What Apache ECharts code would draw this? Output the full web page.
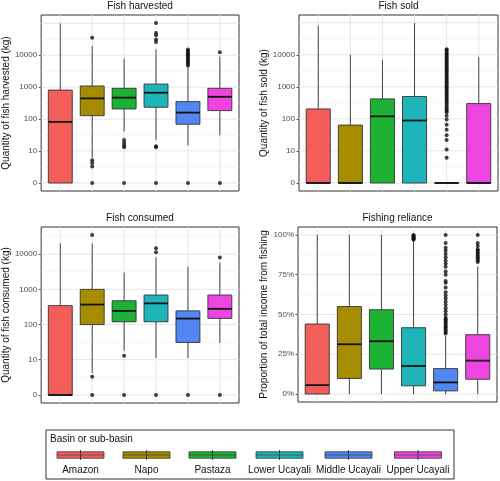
<!DOCTYPE html>
<html><head><meta charset="utf-8">
<script src="https://cdn.jsdelivr.net/npm/echarts@6/dist/echarts.min.js"></script>
<style>html,body{margin:0;padding:0;background:#fff}#c{width:500px;height:481px}</style>
</head><body><div id="c"></div><script>
const categories = ['Amazon', 'Napo', 'Pastaza', 'Lower Ucayali', 'Middle Ucayali', 'Upper Ucayali'];
const colors = ['#F35E5A', '#A88C00', '#1DB234', '#1DB5BA', '#5286F3', '#EE45E0'];
const kgTickLabels = [0, 10, 100, 1000, 10000];
const kgGridBreaks = [0, 10, 100, 1000, 10000, 100000];
const pctTickLabels = [0, 0.25, 0.5, 0.75, 1];

// box stats: [lower whisker, Q1, median, Q3, upper whisker]
const harvestedBox = [
  [0, 0, 82, 810, 98000],
  [6, 128, 445, 1090, 19600],
  [41, 208, 470, 920, 7900],
  [22, 235, 670, 1250, 15200],
  [15, 69, 160, 353, 4550],
  [31, 185, 500, 920, 9000]
];
const harvestedOut = [
  [],
  [35000, 5, 4, 3, 0],
  [22, 18, 15, 13, 0],
  [102000, 50000, 42000, 31000, 26000, 14, 13, 0],
  [4800, 5300, 5900, 6600, 7400, 8200, 9100, 10000, 11000, 12200, 13500, 15000, 0],
  [12300, 0]
];
const soldBox = [
  [0, 0, 0, 204, 81000],
  [0, 0, 0, 64, 10000],
  [0, 0, 120, 420, 6900],
  [0, 0, 89, 500, 98000],
  [0, 0, 0, 0, 0],
  [0, 0, 0, 300, 8600]
];
const soldOut = [
  [], [], [], [],
  [6, 11, 22, 31, 46, 66, 95, 125, 160, 180, 200, 230, 260, 300, 340, 380, 430, 480, 540, 600,
   680, 760, 850, 950, 1050, 1200, 1350, 1500, 1700, 1900, 2100, 2400, 2700, 3000, 3300, 3700,
   4100, 4600, 5200, 5800, 6500, 7200, 8000, 9000, 10000, 11000, 12500, 14000, 15000],
  []
];
const consumedBox = [
  [0, 0, 0, 345, 20400],
  [4, 100, 370, 1000, 20000],
  [18, 120, 245, 475, 3000],
  [11, 120, 400, 690, 8200],
  [11, 31, 148, 245, 4400],
  [30, 150, 280, 690, 5700]
];
const consumedOut = [
  [],
  [35000, 3, 0],
  [13, 0],
  [14600, 11300, 0],
  [0],
  [8000, 0]
];
const relianceBox = [
  [0, 0, 0.056, 0.44, 1],
  [0, 0.098, 0.313, 0.55, 1],
  [0, 0.157, 0.332, 0.53, 1],
  [0, 0.052, 0.176, 0.417, 0.96],
  [0, 0.02, 0.073, 0.16, 0.367],
  [0, 0.093, 0.21, 0.373, 0.80]
];
const relianceOut = [
  [], [], [],
  [0.97, 0.975, 0.98, 0.985, 0.99, 0.995, 1],
  [0.38, 0.39, 0.40, 0.41, 0.42, 0.43, 0.44, 0.45, 0.46, 0.47, 0.48, 0.50, 0.52, 0.54, 0.56, 0.58,
   0.60, 0.62, 0.64, 0.67, 0.70, 0.71, 0.75, 0.77, 0.80, 0.82, 0.84, 0.86, 0.88, 0.90, 0.92, 0.95, 1.0],
  [0.83, 0.84, 0.85, 0.86, 0.87, 0.88, 0.89, 0.90, 0.91, 0.93, 0.95, 1.0]
];

const FONT = '"Liberation Sans", Arial, sans-serif';
const pl = v => Math.asinh(v / 2) / Math.LN10;   // pseudo-log10 transform
const ident = v => v;

const panels = [
  {title: 'Fish harvested', yName: 'Quantity of fish harvested (kg)', box: harvestedBox, out: harvestedOut, kind: 'kg',
   grid: {left: 41, top: 15, width: 198, height: 176}},
  {title: 'Fish sold', yName: 'Quantity of fish sold (kg)', box: soldBox, out: soldOut, kind: 'kg',
   grid: {left: 299, top: 15, width: 199, height: 176}},
  {title: 'Fish consumed', yName: 'Quantity of fish consumed (kg)', box: consumedBox, out: consumedOut, kind: 'kg',
   grid: {left: 41, top: 227, width: 198, height: 176}},
  {title: 'Fishing reliance', yName: 'Proportion of total income from fishing', box: relianceBox, out: relianceOut, kind: 'pct',
   grid: {left: 298, top: 227, width: 199, height: 175}}
];

const grids = [], xAxes = [], yAxes = [], series = [], graphics = [];

panels.forEach((p, k) => {
  const tf = p.kind === 'kg' ? pl : ident;
  let all = [];
  p.box.forEach(b => all = all.concat(b.map(tf)));
  p.out.forEach(o => all = all.concat(o.map(tf)));
  const lo = Math.min(...all), hi = Math.max(...all), r = hi - lo;
  const ext = [lo - 0.05 * r, hi + 0.05 * r];

  let majors, tickVals, fmt;
  if (p.kind === 'kg') {
    majors = kgGridBreaks.map(pl);
    tickVals = kgTickLabels.map(pl);
    fmt = v => { const i = tickVals.findIndex(t => Math.abs(t - v) < 1e-6); return i >= 0 ? String(kgTickLabels[i]) : ''; };
  } else {
    majors = pctTickLabels.slice();
    tickVals = pctTickLabels.slice();
    fmt = v => Math.round(v * 100) + '%';
  }
  const minors = [];
  for (let i = 0; i < majors.length - 1; i++) minors.push((majors[i] + majors[i + 1]) / 2);
  const inExt = v => v >= ext[0] && v <= ext[1];

  grids.push(Object.assign({show: true, backgroundColor: '#fff', borderColor: '#333', borderWidth: 1, containLabel: false}, p.grid));
  xAxes.push({gridIndex: k, type: 'value', min: 0.4, max: 6.6, show: false});
  yAxes.push({
    gridIndex: k, type: 'value', min: ext[0], max: ext[1],
    axisLine: {show: false}, splitLine: {show: false},
    axisTick: {show: true, customValues: tickVals, length: 2.5, lineStyle: {color: '#333', width: 0.8}},
    axisLabel: {customValues: tickVals, formatter: fmt, color: '#4d4d4d', fontSize: 8, margin: 4, fontFamily: FONT},
    name: p.yName, nameLocation: 'middle', nameGap: 28.5,
    nameTextStyle: {fontSize: 10, color: '#111', fontFamily: FONT}
  });

  // horizontal grid lines
  const hData = majors.filter(inExt).map(v => [1, v, 1]).concat(minors.filter(inExt).map(v => [1, v, 0]));
  series.push({
    type: 'custom', xAxisIndex: k, yAxisIndex: k, silent: true, z: 1, data: hData,
    renderItem: (params, api) => {
      const cs = params.coordSys;
      const y = api.coord([1, api.value(1)])[1];
      const major = api.value(2) === 1;
      return {type: 'line', shape: {x1: cs.x, y1: y, x2: cs.x + cs.width, y2: y},
        style: {stroke: major ? '#E6E6E6' : '#F0F0F0', lineWidth: major ? 1 : 0.6}};
    }
  });
  // vertical grid lines at categories
  series.push({
    type: 'custom', xAxisIndex: k, yAxisIndex: k, silent: true, z: 1,
    data: categories.map((c, i) => [i + 1, ext[0]]),
    renderItem: (params, api) => {
      const a = api.coord([api.value(0), ext[0]]), b = api.coord([api.value(0), ext[1]]);
      return {type: 'line', shape: {x1: a[0], y1: a[1], x2: b[0], y2: b[1]}, style: {stroke: '#E6E6E6', lineWidth: 1}};
    }
  });
  // boxes
  series.push({
    type: 'custom', xAxisIndex: k, yAxisIndex: k, z: 3,
    data: p.box.map((b, i) => [i + 1].concat(b.map(tf))),
    renderItem: (params, api) => {
      const i = params.dataIndex;
      const x = api.value(0);
      const pMin = api.coord([x, api.value(1)]), pQ1 = api.coord([x, api.value(2)]),
            pMd = api.coord([x, api.value(3)]), pQ3 = api.coord([x, api.value(4)]), pMx = api.coord([x, api.value(5)]);
      const w = api.size([0.75, 0])[0];
      const cx = pMd[0];
      return {type: 'group', children: [
        {type: 'line', shape: {x1: cx, y1: pMx[1], x2: cx, y2: pQ3[1]}, style: {stroke: '#333', lineWidth: 0.9}},
        {type: 'line', shape: {x1: cx, y1: pQ1[1], x2: cx, y2: pMin[1]}, style: {stroke: '#333', lineWidth: 0.9}},
        {type: 'rect', shape: {x: cx - w / 2, y: pQ3[1], width: w, height: pQ1[1] - pQ3[1]},
          style: {fill: colors[i], stroke: '#333', lineWidth: 0.9}},
        {type: 'line', shape: {x1: cx - w / 2, y1: pMd[1], x2: cx + w / 2, y2: pMd[1]}, style: {stroke: '#111', lineWidth: 1.8}}
      ]};
    }
  });
  // outliers
  const od = [];
  p.out.forEach((o, i) => o.forEach(v => od.push([i + 1, tf(v)])));
  series.push({
    type: 'scatter', xAxisIndex: k, yAxisIndex: k, z: 4, data: od, symbolSize: 4,
    itemStyle: {color: '#111'}, silent: true
  });

  graphics.push({type: 'text', x: p.grid.left + p.grid.width / 2, y: p.grid.top - 8.5,
    style: {text: p.title, align: 'center', verticalAlign: 'middle', fontSize: 10, fill: '#111', fontFamily: FONT}});
});

// legend
const legendCenters = [80.5, 146.5, 212.5, 279.5, 348.5, 418];
graphics.push({type: 'rect', shape: {x: 46, y: 430, width: 408, height: 49}, style: {fill: '#fff', stroke: '#333', lineWidth: 1}});
graphics.push({type: 'text', x: 50, y: 439, style: {text: 'Basin or sub-basin', align: 'left', verticalAlign: 'middle', fontSize: 10, fill: '#111', fontFamily: FONT}});
categories.forEach((c, i) => {
  const cx = legendCenters[i];
  graphics.push({type: 'rect', shape: {x: cx - 23.5, y: 451.8, width: 47, height: 6.4}, style: {fill: colors[i], stroke: '#333', lineWidth: 0.8}});
  graphics.push({type: 'line', shape: {x1: cx - 23.5, y1: 455, x2: cx + 23.5, y2: 455}, style: {stroke: '#333', lineWidth: 0.6}});
  graphics.push({type: 'line', shape: {x1: cx, y1: 450, x2: cx, y2: 460}, style: {stroke: '#333', lineWidth: 0.9}});
  graphics.push({type: 'text', x: cx, y: 470.5, style: {text: c, align: 'center', verticalAlign: 'middle', fontSize: 10, fill: '#111', fontFamily: FONT}});
});

const chart = echarts.init(document.getElementById('c'), null, {renderer: 'canvas'});
chart.setOption({
  animation: false,
  backgroundColor: '#fff',
  textStyle: {fontFamily: FONT},
  grid: grids, xAxis: xAxes, yAxis: yAxes, series: series,
  graphic: graphics
});
</script></body></html>
